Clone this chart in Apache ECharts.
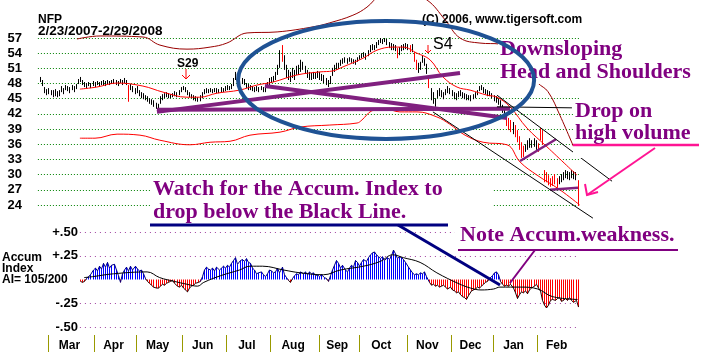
<!DOCTYPE html>
<html><head><meta charset="utf-8">
<script src="https://cdn.jsdelivr.net/npm/echarts@6/dist/echarts.min.js"></script>
<style>html,body{margin:0;padding:0;background:#fff}#c{width:711px;height:352px}</style>
</head><body><div id="c"></div>
<script>
// ---------- DATA (trading-day index 0 = 2/23/2007) ----------
const months = ['Mar','Apr','May','Jun','Jul','Aug','Sep','Oct','Nov','Dec','Jan','Feb'];
const monthStart = [4,26,46,68,89,110,133,152,175,196,216,237];
const dayCount = 257;

const high = [
49.3,48.7,47.3,46.9,47.1,46.7,46.7,46.9,46.5,46.7,
47.5,47.1,47.7,47.5,47.3,47.7,47.5,47.9,48.9,49.3,
48.7,48.3,48.1,48.3,48.1,48.5,48.3,48.5,48.3,48.5,
48.7,48.5,48.7,48.5,48.7,48.9,48.7,48.5,48.9,48.7,
49.1,48.7,47.7,47.9,47.5,47.1,47.5,46.7,46.3,46.1,
45.7,45.5,45.1,44.9,44.7,44.2,44.0,45.5,45.9,46.1,
46.3,46.1,45.9,46.1,46.5,46.3,46.7,47.3,47.5,47.3,
46.7,46.3,45.9,45.7,45.5,45.3,45.7,46.3,46.9,47.1,
46.9,47.1,46.9,47.1,47.1,46.9,47.3,47.1,47.5,47.7,
47.5,47.9,49.1,50.3,49.7,49.5,49.1,48.9,48.1,47.9,
47.7,47.5,47.3,47.5,47.3,47.5,47.3,47.7,48.3,49.1,
49.3,49.5,50.3,51.7,54.6,55.6,53.6,51.7,50.7,50.3,
51.1,50.7,51.5,51.7,52.7,52.3,51.5,50.7,50.3,50.1,
50.3,50.1,50.5,50.3,49.9,49.7,49.1,48.7,49.5,51.1,
51.7,52.1,52.1,52.7,53.0,53.2,53.0,53.2,53.0,52.8,
52.7,53.2,53.6,54.0,54.2,54.0,54.6,55.6,55.8,55.6,
56.2,56.6,57.0,56.8,57.0,56.8,56.2,56.0,55.8,55.6,
55.0,55.2,55.6,55.8,56.0,55.8,55.6,55.8,54.2,52.7,
52.1,52.3,53.6,53.0,51.9,49.1,47.1,46.3,45.1,46.7,
47.1,46.7,46.3,46.9,47.5,47.1,46.7,46.3,46.1,46.5,
46.7,46.3,46.1,45.9,45.7,45.7,45.9,46.3,46.7,47.5,
47.7,47.3,46.9,46.7,46.5,46.1,45.7,45.5,45.1,44.7,
43.8,43.2,41.8,41.2,40.8,40.4,39.8,38.8,37.6,36.4,
35.7,36.0,36.8,37.2,36.8,37.2,36.8,36.2,39.2,38.8,
30.9,30.5,29.9,29.3,29.7,30.1,29.3,29.7,30.1,30.5,
30.9,30.7,30.5,30.9,30.7,30.5,28.9
];
const low = [
48.3,47.5,46.1,45.7,45.9,45.7,45.3,45.5,45.3,45.5,
46.3,45.9,46.7,46.5,46.1,46.7,46.3,46.9,47.9,48.3,
47.7,47.3,47.1,47.5,47.1,47.5,47.3,47.7,47.5,47.7,
47.7,47.5,47.9,47.7,47.9,47.9,47.7,47.5,48.1,47.7,
48.1,47.7,44.4,46.7,46.3,45.9,46.1,45.5,45.1,44.9,
44.7,44.4,44.0,43.8,43.4,43.0,42.6,44.0,44.7,45.1,
45.3,45.1,45.1,45.3,45.5,45.3,45.7,46.3,46.7,46.3,
45.7,45.3,45.1,44.7,44.5,44.4,44.5,45.1,45.9,46.1,
46.1,46.3,46.1,46.3,46.1,46.1,46.3,46.3,46.5,46.7,
46.7,46.9,47.5,48.7,48.3,48.5,47.9,47.7,47.1,46.7,
46.7,46.5,46.3,46.5,46.3,46.7,46.3,46.3,47.1,47.7,
48.1,48.3,48.7,49.7,51.1,52.3,50.7,49.1,48.7,48.3,
49.1,48.7,49.7,49.7,50.3,50.7,49.9,49.1,48.7,48.7,
48.9,48.9,49.1,48.7,48.5,48.1,47.7,47.3,47.9,49.5,
50.3,50.7,50.9,51.5,51.9,52.1,51.9,52.3,52.1,51.9,
51.7,52.3,52.7,53.0,53.2,52.7,53.4,54.2,54.6,54.6,
55.0,55.6,56.0,55.8,56.2,55.6,55.0,54.6,54.6,54.4,
53.0,53.6,54.4,54.6,54.8,54.6,54.2,54.2,52.3,50.7,
50.1,50.7,52.1,51.5,49.9,47.1,44.7,44.0,43.4,45.1,
45.5,45.3,44.9,45.7,46.1,45.9,45.5,44.9,44.7,45.3,
45.5,45.1,44.9,44.7,44.7,44.5,44.9,45.1,45.7,46.5,
46.7,46.1,45.9,45.5,45.5,45.1,44.5,44.2,43.8,43.4,
42.2,41.4,39.6,38.8,38.4,38.0,37.4,36.4,34.9,33.3,
33.5,34.5,34.9,35.3,35.3,35.5,34.9,34.5,36.8,35.9,
28.5,28.5,27.9,27.6,27.8,28.1,27.4,28.1,28.5,28.9,
29.3,29.1,28.9,29.3,29.1,28.9,23.8
];
const redDays = [42,115,170,176,178,179,185,222,223,224,226,227,228,229,230,237,238,239,240,241,242,243,244,245,246,256];

// smooth lines: [day, price]
const ma21 = [[19,46.9],[27,47.3],[36.7,48.1],[49,47.5],[58.6,46.3],[70,45.3],[76,45.3],[84.3,46.1],[95,46.7],[103.3,47.7],[111,48.3],[122.4,49.7],[133.3,50.3],[139.5,50.5],[144.3,51.3],[153.8,53.0],[160.5,54.6],[168,55.2],[172.9,55.2],[179.5,54.0],[185.7,52.7],[191.9,49.3],[198.6,47.3],[204.8,46.7],[212.9,45.7],[217.6,45.3],[223.8,43.4],[231.9,39.2],[241.4,35.5],[255.7,29.9]];
const upperBand = [[17.6,56.8],[28.6,57.4],[49,57.2],[57.1,55.6],[70,54.8],[81,55.2],[89,56.0],[98.6,58.0],[112.9,58.2],[130,59.2],[138,60.0],[149,61.5],[155.7,63.1],[162,65.5],[171.4,66.9],[184.3,64.5],[192.9,60.6],[200,57.0],[209.5,56.0],[219,55.8],[228.6,52.3],[237.1,48.1],[241.9,46.4],[247.6,41.7],[255.7,33.9]];
const lowerBand = [[19,37.2],[26.2,37.2],[36.7,38.0],[47.6,37.8],[57.1,36.8],[71.4,35.9],[81,36.4],[90.5,36.6],[100,37.8],[114.3,38.4],[123.8,39.4],[138,39.8],[151,40.2],[153.3,40.8],[158,42.6],[164.3,43.0],[171.4,42.4],[179.5,42.4],[189,41.4],[195,40.0],[202.4,37.8],[211,36.4],[222.4,35.9],[228.6,32.5],[236.7,29.9],[247.6,27.0],[257,24.0]];

// Accumulation index, one value per day starting at day accStart
const accStart = 19;
const accum = [
-0.02,-0.03,-0.02,0.01,0.03,0.05,0.10,0.12,0.09,0.14,
0.11,0.17,0.13,0.18,0.12,0.15,0.16,0.10,0.04,-0.03,
0.06,0.10,0.13,0.09,0.14,0.10,0.14,0.11,0.09,0.10,
0.06,0.01,-0.02,-0.04,-0.06,-0.08,-0.09,-0.09,-0.07,-0.05,
-0.06,-0.04,-0.03,-0.02,-0.01,-0.04,-0.07,-0.08,-0.06,-0.09,
-0.11,-0.13,-0.09,-0.07,-0.06,-0.04,-0.03,-0.02,0.03,0.10,
0.13,0.11,0.10,0.12,0.09,0.13,0.10,0.12,0.14,0.12,
0.15,0.13,0.17,0.20,0.23,0.16,0.20,0.21,0.19,0.22,
0.18,0.17,0.12,0.10,0.06,0.07,0.08,0.05,0.03,0.06,
0.10,0.09,0.07,0.08,0.12,0.07,0.13,0.05,0.02,-0.01,
-0.03,0.01,0.04,0.06,0.05,0.08,0.06,0.08,0.05,0.08,
0.06,0.07,0.04,0.05,0.03,0.05,0.02,0.01,-0.02,0.04,
0.10,0.15,0.20,0.17,0.12,0.15,0.10,0.08,0.12,0.15,
0.13,0.20,0.18,0.14,0.18,0.21,0.19,0.23,0.26,0.28,
0.29,0.26,0.24,0.22,0.24,0.20,0.23,0.21,0.25,0.31,
0.27,0.22,0.24,0.23,0.21,0.18,0.13,0.10,0.07,0.05,
0.06,0.05,0.07,0.06,0.08,0.03,-0.03,-0.06,-0.05,-0.07,
-0.06,-0.08,-0.07,-0.06,-0.08,-0.10,-0.08,-0.11,-0.12,-0.14,
-0.13,-0.16,-0.18,-0.19,-0.21,-0.17,-0.12,-0.11,-0.10,-0.08,
-0.09,-0.07,-0.05,-0.03,-0.02,0.01,0.04,0.07,0.08,0.05,
-0.02,-0.05,-0.07,-0.06,-0.07,-0.05,-0.09,-0.14,-0.20,-0.16,
-0.13,-0.14,-0.12,-0.15,-0.11,-0.09,-0.07,-0.05,-0.09,-0.12,
-0.22,-0.27,-0.30,-0.27,-0.22,-0.21,-0.22,-0.20,-0.19,-0.23,
-0.22,-0.20,-0.22,-0.19,-0.22,-0.24,-0.22,-0.29
];
const accumMA = [[21,0.02],[25,0.03],[35,0.06],[51,0.08],[57,0.02],[64,-0.02],[70,-0.05],[75,-0.07],[78,-0.03],[86,0.04],[95,0.10],[100,0.14],[106,0.14],[116,0.10],[124,0.07],[135,0.05],[143,0.10],[154,0.14],[162,0.19],[168,0.26],[173,0.23],[181,0.18],[189,0.07],[199,-0.04],[205,-0.09],[210,-0.11],[216,-0.10],[219,-0.08],[229,-0.08],[237,-0.10],[244,-0.18],[256,-0.21]];

// annotation trend lines in data units: [day1, price1, day2, price2, styleIndex]
const trendLines = [
  [55.7,42.4,200,50.1,0],
  [55.7,42.8,223.8,43.0,0],
  [107.1,47.5,222.4,41.2,0],
  [228.6,32.7,245.7,37.0,1],
  [242.9,27.0,256.2,27.4,1],
  [187.1,42.4,263.3,21.4,2],
  [217.6,45.7,272.4,28.7,2],
  [217.6,43.4,253.3,43.2,2]
];
const headEllipse = [[164.8,48.7,70.5,11.66]];

// ---------- CHART ----------
const priceData = high.map((h,i)=>[i,h,low[i],redDays.includes(i)?1:0]);
const accData = accum.map((v,k)=>[accStart+k,v]);
const tickVals = monthStart.map(s=>s-0.2);
const labelPos = monthStart.map((s,k)=>((s+(k+1<monthStart.length?monthStart[k+1]:dayCount))/2)-1);

const annoStyles = [
  {stroke:'#80207f',lineWidth:4},
  {stroke:'#80207f',lineWidth:2.5},
  {stroke:'#000000',lineWidth:1}
];

const SANS = '"Liberation Sans", Arial, sans-serif';
const SERIF = '"Liberation Serif", "Times New Roman", serif';
const PURPLE = '#800080';
const T=(x,y,text,font,fill)=>({type:'text',x,y,z:100,style:{text,font,fill,align:'left',verticalAlign:'middle'}});
const L=(x1,y1,x2,y2,stroke,w)=>({type:'line',z:101,shape:{x1,y1,x2,y2},style:{stroke,lineWidth:w}});
const R=(x,y,w,h)=>({type:'rect',z:98,shape:{x,y,width:w,height:h},style:{fill:'#ffffff'}});
const P=(pts,stroke,w)=>({type:'polyline',z:101,shape:{points:pts},style:{stroke,lineWidth:w,fill:null}});

const chart = echarts.init(document.getElementById('c'), null, {renderer:'canvas'});
chart.setOption({
  animation:false,
  backgroundColor:'#ffffff',
  textStyle:{fontFamily:SANS},
  grid:[
    {left:37.9, top:38, width:541.8, height:167},
    {left:79.9, top:232, width:499.8, height:95},
    {left:37.9, top:300, width:541.8, height:35}
  ],
  xAxis:[
    {gridIndex:0,type:'value',min:-1,max:dayCount,show:false},
    {gridIndex:1,type:'value',min:accStart,max:dayCount,show:false},
    {gridIndex:2,type:'value',min:-1,max:dayCount,
     axisLine:{show:false},splitLine:{show:false},
     axisTick:{show:true,length:17,lineStyle:{color:'#999900',width:1},customValues:tickVals},
     axisLabel:{customValues:labelPos,margin:5,fontSize:12,fontWeight:'bold',color:'#000',fontFamily:SANS,
       formatter:(v)=>{const k=labelPos.findIndex(p=>Math.abs(p-v)<1e-6);return k>=0?months[k]:'';}}}
  ],
  yAxis:[
    {gridIndex:0,type:'value',min:24,max:57,interval:3,
     axisLine:{show:false},axisTick:{show:false},
     axisLabel:{fontSize:13,fontWeight:'bold',color:'#000',margin:16,fontFamily:SANS},
     splitLine:{show:true,lineStyle:{color:'#008000',type:[1,2],width:1}}},
    {gridIndex:1,type:'value',min:-0.5,max:0.5,interval:0.25,
     axisLine:{show:false},axisTick:{show:false},
     axisLabel:{fontSize:13,fontWeight:'bold',color:'#000',margin:2,fontFamily:SANS,
       formatter:(v)=>{if(Math.abs(v)<1e-9)return '';const s=String(Math.round(Math.abs(v)*100)).padStart(2,'0');return (v>0?'+.':'-.')+s;}},
     splitLine:{show:true,lineStyle:{color:['#a040a0','#a040a0','rgba(0,0,0,0)','#a040a0','#a040a0'],type:[1,4],width:1}}},
    {gridIndex:2,type:'value',min:0,max:1,show:false}
  ],
  series:[
    {type:'line',xAxisIndex:0,yAxisIndex:0,data:upperBand,smooth:0.4,showSymbol:false,clip:false,z:3,
     lineStyle:{color:'#990000',width:1}},
    {type:'line',xAxisIndex:0,yAxisIndex:0,data:lowerBand,smooth:0.4,showSymbol:false,clip:false,z:3,
     lineStyle:{color:'#ff0000',width:1}},
    {type:'custom',xAxisIndex:0,yAxisIndex:0,data:priceData,z:4,clip:false,
     renderItem:(params,api)=>{
       const i=api.value(0);
       const a=api.coord([i,api.value(1)]), b=api.coord([i,api.value(2)]);
       const x=Math.round(a[0])+0.5;
       return {type:'line',shape:{x1:x,y1:a[1],x2:x,y2:b[1]},style:{stroke:api.value(3)?'#ff0000':'#000000',lineWidth:1}};
     }},
    {type:'line',xAxisIndex:0,yAxisIndex:0,data:ma21,smooth:0.4,showSymbol:false,clip:false,z:5,
     lineStyle:{color:'#ff0000',width:1}},
    {type:'custom',xAxisIndex:0,yAxisIndex:0,data:trendLines,z:6,clip:false,
     renderItem:(params,api)=>{
       const a=api.coord([api.value(0),api.value(1)]), b=api.coord([api.value(2),api.value(3)]);
       return {type:'line',shape:{x1:a[0],y1:a[1],x2:b[0],y2:b[1]},style:annoStyles[api.value(4)]};
     }},
    {type:'custom',xAxisIndex:0,yAxisIndex:0,data:headEllipse,z:120,clip:false,
     renderItem:(params,api)=>{
       const c=api.coord([api.value(0),api.value(1)]);
       const s=api.size([api.value(2),api.value(3)]);
       return {type:'ellipse',shape:{cx:c[0],cy:c[1],rx:s[0],ry:s[1]},style:{fill:null,stroke:'#1f5294',lineWidth:4}};
     }},
    {type:'custom',xAxisIndex:1,yAxisIndex:1,data:accData,z:3,clip:false,
     renderItem:(params,api)=>{
       const i=api.value(0), v=api.value(1);
       const a=api.coord([i,0]), b=api.coord([i,v]);
       const x=Math.round(a[0])+0.5;
       const kids=[{type:'line',shape:{x1:x,y1:a[1],x2:x,y2:b[1]},style:{stroke:v>=0?'#0000ff':'#ff0000',lineWidth:1}}];
       const nxt=accData[params.dataIndex+1];
       if(nxt){
         const c=api.coord([nxt[0],nxt[1]]);
         kids.push({type:'line',z2:5,shape:{x1:x,y1:b[1],x2:Math.round(c[0])+0.5,y2:c[1]},
           style:{stroke:(v+nxt[1])>=0?'#000080':'#200000',lineWidth:1}});
       }
       return {type:'group',children:kids};
     }},
    {type:'line',xAxisIndex:1,yAxisIndex:1,data:accumMA,smooth:0.4,showSymbol:false,z:5,
     lineStyle:{color:'#000000',width:1}}
  ],
  graphic:[
    R(150,178,343,46), R(498,42,205,42), R(573,100,135,58), R(455,226,232,22),
    T(38,20,'NFP','bold 12px '+SANS,'#000'),
    T(38,31,'2/23/2007-2/29/2008','bold 13.5px '+SANS,'#000'),
    T(422,20,'(C) 2006, www.tigersoft.com','bold 12px '+SANS,'#000'),
    T(433,45,'S4','16px '+SANS,'#000'),
    T(177,64,'S29','bold 12px '+SANS,'#000'),
    T(2,258,'Accum','bold 12px '+SANS,'#000'),
    T(2,269,'Index','bold 12px '+SANS,'#000'),
    T(2,280,'AI= 105/200','bold 12px '+SANS,'#000'),
    T(500,49.5,'Downsloping','bold 22px '+SERIF,PURPLE),
    T(500,72.5,'Head and Shoulders','bold 22px '+SERIF,PURPLE),
    T(575,111.5,'Drop on','bold 22px '+SERIF,PURPLE),
    T(575,133.5,'high volume','bold 22px '+SERIF,PURPLE),
    T(153,189.5,'Watch for the Accum. Index to','bold 22px '+SERIF,PURPLE),
    T(153,212,'drop below the Black Line.','bold 22px '+SERIF,PURPLE),
    T(460,235.5,'Note Accum.weakness.','bold 22px '+SERIF,PURPLE),
    L(150,225,448,225,'#000080',3),
    L(398,225,500,285,'#000080',3),
    L(458,250,678,250,PURPLE,2),
    L(535,250,510,283,PURPLE,2),
    L(573,145,699,145,'#ff1493',2.5),
    L(655,148,587,195,'#ff1493',2),
    P([[585,184],[587,195],[598,192]],'#ff1493',2),
    L(186,69,186,79,'#ff0000',1),
    P([[182,75],[186,79],[190,75]],'#ff0000',1),
    L(428,45,428,53,'#ff0000',1),
    P([[425,50],[428,53],[431,50]],'#ff0000',1)
  ]
});
</script>
</body></html>
